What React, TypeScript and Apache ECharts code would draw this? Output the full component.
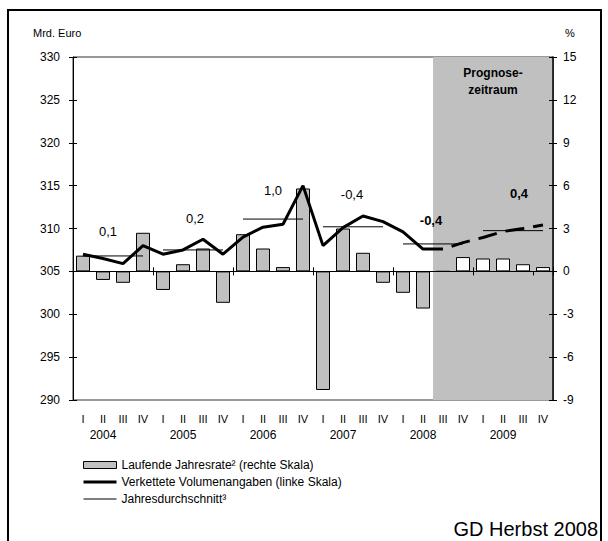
import React, { useEffect, useRef } from 'react';
import * as echarts from 'echarts';

const years = ['2004', '2005', '2006', '2007', '2008', '2009'];
const quarters = ['I', 'II', 'III', 'IV'];
const categories = years.flatMap((y) => quarters.map((q) => `${q} ${y}`));

// Laufende Jahresrate (%), rechte Skala
const jahresrate = [
  1.1, -0.6, -0.8, 2.7,
  -1.3, 0.5, 1.6, -2.2,
  2.6, 1.6, 0.3, 5.8,
  -8.3, 3.0, 1.3, -0.8,
  -1.5, -2.6, 0.0, 1.0,
  0.9, 0.9, 0.5, 0.3,
];

// Verkettete Volumenangaben (Mrd. Euro), linke Skala
const volumen = [
  307.0, 306.5, 305.9, 308.0,
  307.0, 307.5, 308.75, 307.0,
  309.0, 310.15, 310.5, 315.0,
  308.0, 310.1, 311.45, 310.8,
  309.6, 307.6, 307.6, 308.35,
  308.95, 309.65, 310.0, 310.4,
];

// Jahresdurchschnitt (Mrd. Euro) and average yearly rate labels
const jahresdurchschnitt = [306.8, 307.5, 311.1, 310.2, 308.2, 309.75];
const jahresrateAvg = ['0,1', '0,2', '1,0', '-0,4', '-0,4', '0,4'];

const prognoseAb = 18; // index of first forecast quarter (2008 III)

const leftMin = 290, leftMax = 330, leftStep = 5;
const rightMin = -9, rightMax = 15, rightStep = 3;

const FONT = 'Liberation Sans, Arial, sans-serif';

// layout-only label offsets (px) for the yearly average labels
const avgLabelOffsets = [
  [5, -12], [12, -19], [10, -17], [9, -20], [8, -11], [16, -25],
];

const LEG_BAR = 'Laufende Jahresrate² (rechte Skala)';
const LEG_LINE = 'Verkettete Volumenangaben (linke Skala)';
const LEG_AVG = 'Jahresdurchschnitt³';

function buildOption() {
  const avgSeries = years.map((_, k) => {
    const forecastYear = (k + 1) * 4 > prognoseAb;
    return {
      name: LEG_AVG,
      type: 'line',
      xAxisIndex: 0,
      yAxisIndex: 0,
      z: 4,
      symbol: 'circle',
      symbolSize: 1,
      showSymbol: true,
      itemStyle: { color: 'rgba(0,0,0,0)', borderWidth: 0 },
      lineStyle: { color: '#000', width: 1 },
      silent: true,
      data: categories.map((_, i) => {
        if (Math.floor(i / 4) !== k) return null;
        if (i === 4 * k + 1) {
          return {
            value: jahresdurchschnitt[k],
            label: {
              show: true,
              position: 'top',
              offset: avgLabelOffsets[k],
              formatter: jahresrateAvg[k],
              fontFamily: FONT,
              fontSize: 13,
              fontWeight: forecastYear ? 'bold' : 'normal',
              color: '#000',
            },
          };
        }
        return jahresdurchschnitt[k];
      }),
    };
  });

  const baseYAxis = (side: 'left' | 'right') => ({
    type: 'value',
    position: side,
    min: side === 'left' ? leftMin : rightMin,
    max: side === 'left' ? leftMax : rightMax,
    interval: side === 'left' ? leftStep : rightStep,
    splitLine: { show: false },
    z: 10,
  });

  return {
    animation: false,
    backgroundColor: '#fff',
    textStyle: { fontFamily: FONT },
    grid: {
      left: 73,
      right: 55,
      top: 57,
      bottom: 141,
      show: true,
      borderColor: '#333',
      borderWidth: 1,
      backgroundColor: 'transparent',
    },
    legend: {
      orient: 'vertical',
      left: 78,
      top: 454,
      itemWidth: 33,
      itemHeight: 7,
      itemGap: 5,
      selectedMode: false,
      textStyle: { fontFamily: FONT, fontSize: 12, color: '#000' },
      data: [
        { name: LEG_BAR, icon: 'rect', itemStyle: { color: '#c0c0c0', borderColor: '#000', borderWidth: 1 } },
        { name: LEG_LINE, icon: 'path://M0,0H33V3H0Z', itemStyle: { color: '#000', borderWidth: 0 } },
        { name: LEG_AVG, icon: 'path://M0,0H33V1H0Z', itemStyle: { color: '#000', borderWidth: 0 } },
      ],
    },
    xAxis: [
      {
        type: 'category',
        data: categories,
        boundaryGap: true,
        position: 'bottom',
        z: 10,
        axisLine: { show: true, lineStyle: { color: '#000', width: 1 } },
        axisTick: { show: true, interval: 3, length: 4, lineStyle: { color: '#000' } },
        axisLabel: {
          interval: 0,
          margin: 11,
          color: '#000',
          formatter: (value: string, index: number) => {
            const [q, y] = value.split(' ');
            return index % 4 === 1 ? `{q|${q}}\n{y|${y}}` : `{q|${q}}`;
          },
          rich: {
            q: { fontFamily: FONT, fontSize: 11, lineHeight: 16, color: '#000' },
            y: { fontFamily: FONT, fontSize: 12, lineHeight: 16, color: '#000' },
          },
        },
        splitLine: { show: false },
      },
      {
        type: 'category',
        data: categories,
        boundaryGap: true,
        position: 'bottom',
        z: 10,
        axisLine: { show: false },
        axisTick: { show: true, inside: true, interval: 3, length: 4, lineStyle: { color: '#000' } },
        axisLabel: { show: false },
        splitLine: { show: false },
      },
      {
        type: 'value',
        min: 0,
        max: categories.length,
        show: false,
      },
    ],
    yAxis: [
      {
        ...baseYAxis('left'),
        axisLine: { show: true, lineStyle: { color: '#000', width: 1 } },
        axisTick: { show: true, length: 4, lineStyle: { color: '#000' } },
        axisLabel: { margin: 13, color: '#000', fontFamily: FONT, fontSize: 12 },
      },
      {
        ...baseYAxis('right'),
        axisLine: { show: true, lineStyle: { color: '#000', width: 1.5 } },
        axisTick: { show: true, length: 4, lineStyle: { color: '#000' } },
        axisLabel: { margin: 10, color: '#000', fontFamily: FONT, fontSize: 12 },
      },
      {
        ...baseYAxis('left'),
        axisLine: { show: false },
        axisTick: { show: true, inside: true, length: 4, lineStyle: { color: '#000' } },
        axisLabel: { show: false },
      },
      {
        ...baseYAxis('right'),
        axisLine: { show: false },
        axisTick: { show: true, inside: true, length: 4, lineStyle: { color: '#000' } },
        axisLabel: { show: false },
      },
    ],
    series: [
      {
        name: 'Prognosezeitraum',
        type: 'line',
        xAxisIndex: 2,
        yAxisIndex: 1,
        z: 1,
        symbol: 'none',
        silent: true,
        lineStyle: { opacity: 0 },
        data: [[prognoseAb, 0]],
        markArea: {
          silent: true,
          itemStyle: { color: '#c0c0c0' },
          label: {
            show: true,
            position: 'insideTop',
            distance: 7,
            formatter: 'Prognose-\nzeitraum',
            fontFamily: FONT,
            fontSize: 12,
            fontWeight: 'bold',
            lineHeight: 17,
            color: '#000',
          },
          data: [[{ xAxis: prognoseAb }, { xAxis: categories.length }]],
        },
      },
      {
        name: LEG_BAR,
        type: 'bar',
        xAxisIndex: 0,
        yAxisIndex: 1,
        z: 3,
        barWidth: 14,
        itemStyle: { color: '#c0c0c0', borderColor: '#000', borderWidth: 1 },
        data: jahresrate.map((v, i) => ({
          value: v,
          itemStyle: { color: i >= prognoseAb ? '#ffffff' : '#c0c0c0', borderColor: '#000', borderWidth: 1 },
        })),
        markLine: {
          silent: true,
          symbol: ['none', 'none'],
          label: { show: false },
          lineStyle: { color: '#000', width: 1, type: 'solid' },
          data: [{ yAxis: 0 }],
        },
      },
      {
        name: LEG_LINE,
        type: 'line',
        xAxisIndex: 0,
        yAxisIndex: 0,
        z: 5,
        symbol: 'none',
        color: '#000',
        lineStyle: { color: '#000', width: 3 },
        data: volumen.map((v, i) => (i <= prognoseAb ? v : null)),
      },
      {
        name: 'Prognose Volumen',
        type: 'line',
        xAxisIndex: 0,
        yAxisIndex: 0,
        z: 5,
        symbol: 'none',
        color: '#000',
        lineStyle: { color: '#000', width: 3, type: [19, 9], dashOffset: 19 },
        data: volumen.map((v, i) => (i >= prognoseAb ? v : null)),
      },
      ...avgSeries,
    ],
    graphic: [
      {
        type: 'rect',
        z: 100,
        silent: true,
        shape: { x: 8, y: 10, width: 593, height: 600 },
        style: { fill: 'none', stroke: '#000', lineWidth: 2 },
      },
      {
        type: 'text',
        left: 33,
        top: 27,
        silent: true,
        style: { text: 'Mrd. Euro', fontFamily: FONT, fontSize: 11, fill: '#000' },
      },
      {
        type: 'text',
        left: 565,
        top: 27,
        silent: true,
        style: { text: '%', fontFamily: FONT, fontSize: 11, fill: '#000' },
      },
      {
        type: 'text',
        right: 10,
        top: 519,
        silent: true,
        style: { text: 'GD Herbst 2008', fontFamily: FONT, fontSize: 20, fill: '#000' },
      },
    ],
  };
}

export default function App() {
  const ref = useRef<HTMLDivElement>(null);
  useEffect(() => {
    if (!ref.current) return;
    const chart = echarts.init(ref.current, null, { renderer: 'svg' });
    chart.setOption(buildOption() as any);
    return () => chart.dispose();
  }, []);
  return (
    <div
      ref={ref}
      style={{ position: 'fixed', left: 0, top: 0, width: 608, height: 541, background: '#fff' }}
    />
  );
}
